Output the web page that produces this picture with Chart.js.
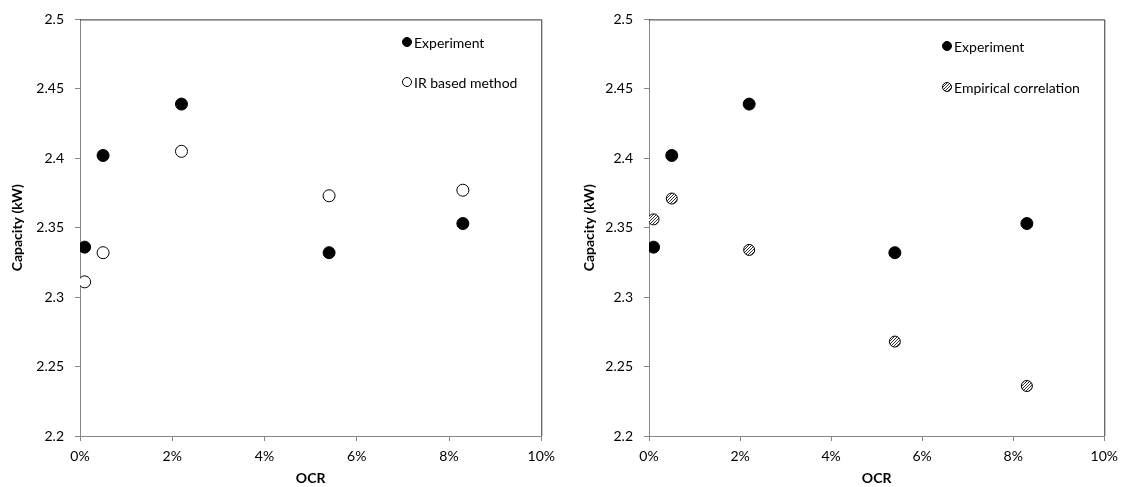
<!DOCTYPE html>
<html>
<head>
<meta charset="utf-8">
<script src="https://cdn.jsdelivr.net/npm/chart.js@4"></script>
<style>
  html, body { margin: 0; padding: 0; background: #fff; }
  #wrap { position: relative; width: 1125px; height: 487px; }
  .box { position: absolute; top: 0; height: 487px; }
</style>
</head>
<body>
<div id="wrap">
  <div class="box" style="left:0;width:562px"><canvas id="leftChart"></canvas></div>
  <div class="box" style="left:562px;width:563px"><canvas id="rightChart"></canvas></div>
</div>
<script>
// OCR in percent
const ocr = [0.1, 0.5, 2.2, 5.4, 8.3];
const experiment = [2.336, 2.402, 2.439, 2.332, 2.353];
const irMethod = [2.311, 2.332, 2.405, 2.373, 2.377];
const empirical = [2.356, 2.371, 2.334, 2.268, 2.236];

const xTickLabels = ["0%", "2%", "4%", "6%", "8%", "10%"];
const yTickLabels = ["2.2", "2.25", "2.3", "2.35", "2.4", "2.45", "2.5"];

const FONT = "Lato, 'Open Sans', sans-serif";
const AXIS_GRAY = "#868686";

function pts(ys) {
  return ocr.map((x, i) => ({ x: x, y: ys[i] }));
}

// diagonal hatch for the correlation markers
function hatchPattern() {
  const c = document.createElement("canvas");
  c.width = 3;
  c.height = 3;
  const g = c.getContext("2d");
  g.fillStyle = "#fff";
  g.fillRect(0, 0, 3, 3);
  g.strokeStyle = "#333";
  g.lineWidth = 1;
  g.beginPath();
  g.moveTo(-1, 4); g.lineTo(4, -1);
  g.moveTo(-1, 1); g.lineTo(1, -1);
  g.moveTo(2, 4); g.lineTo(4, 2);
  g.stroke();
  return g.createPattern(c, "repeat");
}
const hatch = hatchPattern();

// top + right border of plot area, and legend inside the plot
const frameAndLegend = {
  id: "frameAndLegend",
  afterDraw(chart, args, opts) {
    const { ctx, chartArea: a } = chart;
    ctx.save();
    ctx.strokeStyle = "#333";
    ctx.lineWidth = 1;
    ctx.beginPath();
    ctx.moveTo(a.left, a.top + 0.5);
    ctx.lineTo(a.right + 0.5, a.top + 0.5);
    ctx.lineTo(a.right + 0.5, a.bottom);
    ctx.stroke();

    ctx.font = "14px " + FONT;
    ctx.textBaseline = "middle";
    opts.items.forEach((it) => {
      ctx.beginPath();
      ctx.arc(opts.x, it.y, 4.5, 0, Math.PI * 2);
      ctx.fillStyle = it.fill;
      ctx.fill();
      ctx.strokeStyle = "#000";
      ctx.lineWidth = 1;
      ctx.stroke();
      ctx.fillStyle = "#000";
      ctx.fillText(it.text, opts.x + 7, it.y + 1);
    });
    ctx.restore();
  },
};

function makeChart(id, second, yWidth, titlePad, padRight, legend) {
  return new Chart(document.getElementById(id), {
    type: "scatter",
    data: {
      datasets: [
        {
          label: "Experiment",
          data: pts(experiment),
          pointRadius: 6,
          pointHoverRadius: 6,
          pointBackgroundColor: "#000",
          pointBorderColor: "#000",
          pointBorderWidth: 1,
        },
        second,
      ],
    },
    options: {
      responsive: true,
      maintainAspectRatio: false,
      animation: false,
      layout: { padding: { top: 15, right: padRight, bottom: 0, left: 0 } },
      plugins: {
        legend: { display: false },
        tooltip: { enabled: false },
        frameAndLegend: legend,
      },
      scales: {
        x: {
          type: "linear",
          min: 0,
          max: 10,
          afterBuildTicks: (s) => {
            s.ticks = xTickLabels.map((_, i) => ({ value: i * 2 }));
          },
          afterFit: (s) => { s.height = 51; },
          grid: { drawOnChartArea: false, color: AXIS_GRAY, tickLength: 5 },
          border: { color: AXIS_GRAY },
          ticks: {
            padding: 7,
            color: "#000",
            font: { family: FONT, size: 14 },
            maxRotation: 0,
            callback: (v, i) => xTickLabels[i],
          },
          title: {
            display: true,
            text: "OCR",
            color: "#000",
            padding: { top: 4, bottom: 0 },
            font: { family: FONT, size: 14, weight: "bold" },
          },
        },
        y: {
          type: "linear",
          min: 2.2,
          max: 2.5,
          afterBuildTicks: (s) => {
            s.ticks = yTickLabels.map((t) => ({ value: parseFloat(t) }));
          },
          afterFit: (s) => { s.width = yWidth; },
          grid: { drawOnChartArea: false, color: AXIS_GRAY, tickLength: 5 },
          border: { color: AXIS_GRAY },
          ticks: {
            padding: 11,
            color: "#000",
            font: { family: FONT, size: 14 },
            callback: (v, i) => yTickLabels[i],
          },
          title: {
            display: true,
            text: "Capacity (kW)",
            color: "#000",
            padding: { top: titlePad, bottom: 0 },
            font: { family: FONT, size: 14, weight: "bold" },
          },
        },
      },
    },
    plugins: [frameAndLegend],
  });
}

makeChart(
  "leftChart",
  {
    label: "IR based method",
    data: pts(irMethod),
    pointRadius: 6,
    pointHoverRadius: 6,
    pointBackgroundColor: "#fff",
    pointBorderColor: "#000",
    pointBorderWidth: 1,
  },
  80, 9, 18,
  {
    x: 407,
    items: [
      { y: 42, text: "Experiment", fill: "#000" },
      { y: 82, text: "IR based method", fill: "#fff" },
    ],
  }
);

makeChart(
  "rightChart",
  {
    label: "Empirical correlation",
    data: pts(empirical),
    pointRadius: 5.5,
    pointHoverRadius: 5.5,
    pointBackgroundColor: hatch,
    pointBorderColor: "#000",
    pointBorderWidth: 1,
  },
  87, 19, 17,
  {
    x: 385,
    items: [
      { y: 46, text: "Experiment", fill: "#000" },
      { y: 87, text: "Empirical correlation", fill: hatch },
    ],
  }
);
</script>
</body>
</html>
